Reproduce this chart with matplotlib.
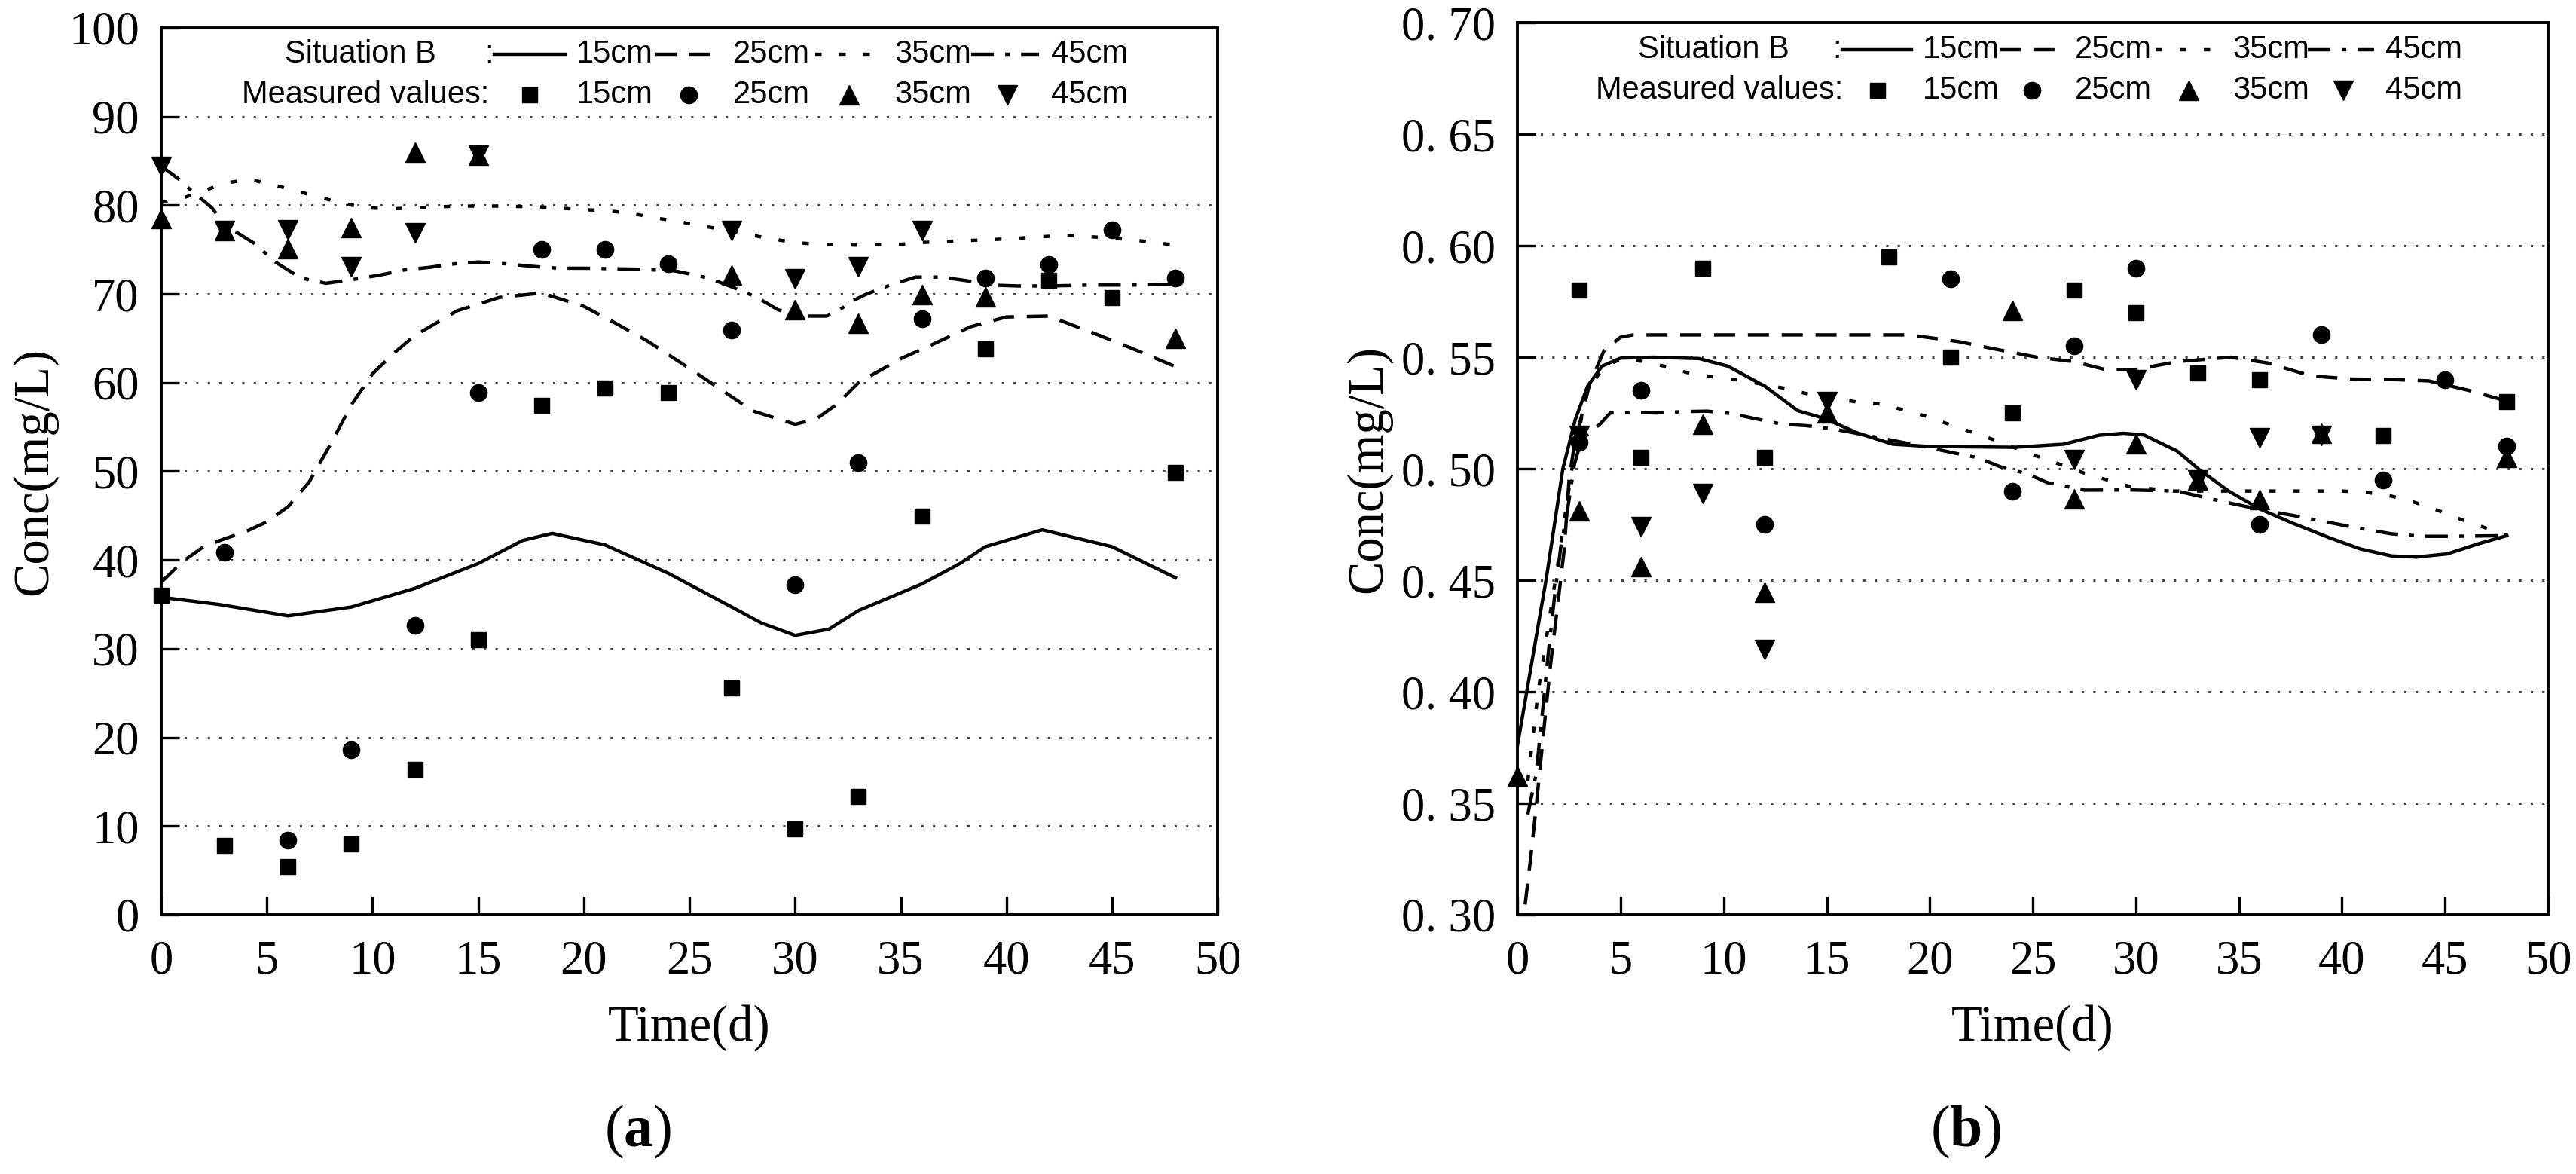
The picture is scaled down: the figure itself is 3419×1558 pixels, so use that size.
import numpy as np
import matplotlib
matplotlib.use('Agg')
import matplotlib.pyplot as plt

nan = np.nan

# ---- measured values (sampled every 3 days) ----
days = [0, 3, 6, 9, 12, 15, 18, 21, 24, 27, 30, 33, 36, 39, 42, 45, 48]

a_meas_15 = [36.0, 7.8, 5.4, 8.0, 16.4, 31.0, 57.4, 59.4, 58.9, 25.6, 9.7, 13.3, 44.9, 63.8, 71.5, 69.6, 49.9]
a_meas_25 = [nan, 40.9, 8.4, 18.6, 32.6, 58.9, 75.0, 75.0, 73.4, 65.9, 37.2, 51.0, 67.2, 71.8, 73.3, 77.2, 71.8]
a_meas_35 = [78.5, 77.1, 75.1, 77.5, 86.0, 85.6, nan, nan, nan, 72.1, 68.2, 66.7, 69.9, 69.7, nan, nan, 65.0]
a_meas_45 = [84.4, 77.1, 77.2, 73.1, 76.9, 85.6, nan, nan, nan, 77.1, 71.7, 73.1, 77.1, nan, nan, nan, nan]

b_meas_15 = [nan, 0.580, 0.505, 0.590, 0.505, nan, 0.595, 0.550, 0.525, 0.580, 0.570, 0.543, 0.540, nan, 0.515, nan, 0.530]
b_meas_25 = [nan, 0.512, 0.535, nan, 0.475, nan, nan, 0.585, 0.490, 0.555, 0.590, nan, 0.475, 0.560, 0.495, 0.540, 0.510]
b_meas_35 = [0.362, 0.481, 0.456, 0.520, 0.4445, 0.525, nan, nan, 0.571, 0.4865, 0.511, 0.495, 0.486, 0.516, nan, nan, 0.505]
b_meas_45 = [nan, 0.515, 0.474, 0.489, 0.419, 0.530, nan, nan, nan, 0.504, 0.540, 0.495, 0.514, 0.515, nan, nan, nan]

# ---- simulated curves, Situation B (a) ----
a_t15 = [0, 2.7, 6, 9, 12, 15, 17.1, 18.5, 21, 24, 27, 28.4, 30, 31.6, 33, 36, 37.8, 39, 41.7, 45, 48]
a_s15 = [35.8, 35.0, 33.7, 34.7, 36.8, 39.6, 42.2, 43.0, 41.7, 38.5, 34.7, 32.9, 31.5, 32.2, 34.3, 37.3, 39.6, 41.5, 43.4, 41.5, 38.0]

a_t25 = [0, 1, 2, 3, 4, 5, 6, 7, 8, 9, 10, 11, 12, 14, 16, 18, 20, 21.5, 23, 25, 26.5, 28, 30, 31, 32, 33, 35, 36.5, 38.3, 40, 42, 44, 46, 48]
a_s25 = [37.5, 39.8, 41.5, 42.4, 43.2, 44.3, 46.0, 48.8, 53.0, 57.5, 61.0, 63.3, 65.3, 68.1, 69.6, 70.1, 68.6, 66.7, 64.7, 61.6, 59.2, 56.8, 55.3, 55.9, 57.6, 60.0, 62.7, 64.3, 66.3, 67.4, 67.5, 65.7, 63.8, 61.8]

a_t35 = [0, 1, 2, 3, 4.2, 5.3, 6.4, 7.5, 8.6, 9.7, 11, 12, 14, 16, 18, 20, 21, 22.2, 23.3, 24.4, 25.5, 27, 27.8, 28.9, 30, 31, 33, 35, 36, 38, 40, 42, 43, 44.3, 45.5, 46.7, 48]
a_s35 = [80.3, 80.8, 81.6, 82.5, 82.9, 82.3, 81.6, 80.9, 80.2, 79.7, 79.6, 79.7, 79.9, 79.9, 79.8, 79.5, 79.4, 79.1, 78.6, 78.2, 77.7, 77.1, 76.7, 76.2, 75.8, 75.6, 75.5, 75.6, 75.8, 76.0, 76.2, 76.5, 76.6, 76.4, 76.2, 75.9, 75.5]

a_t45 = [0, 0.8, 1.4, 2.4, 3, 4.4, 5.4, 6.6, 7.8, 9, 10.3, 11.5, 12.7, 13.9, 15, 16.3, 17.6, 18.8, 20, 22.4, 24.3, 25.9, 27, 28.2, 29.2, 30.2, 31.5, 32.1, 32.7, 33.4, 34.5, 35.7, 36.9, 38.1, 39.3, 40.5, 42, 44, 46, 48]
a_s45 = [84.4, 83.0, 81.7, 79.7, 77.8, 75.7, 73.6, 71.8, 71.2, 71.6, 72.1, 72.7, 73.0, 73.4, 73.6, 73.4, 73.1, 72.9, 72.9, 72.8, 72.6, 71.8, 70.8, 69.6, 68.2, 67.5, 67.5, 68.2, 69.2, 70.0, 71.0, 71.9, 71.9, 71.5, 71.0, 70.9, 70.9, 71.0, 71.0, 71.1]

# ---- simulated curves, Situation B (b) ----
b_t15 = [0, 1.4, 2.2, 2.8, 3.4, 4.1, 5, 6.6, 8.8, 10.2, 12, 13.6, 14.9, 16.5, 18.2, 19.9, 24.1, 26.5, 28.2, 29.4, 30.4, 32, 33.1, 34.5, 36, 37.6, 39.4, 40.9, 42.4, 43.6, 45.1, 46.6, 48]
b_s15 = [0.376, 0.451, 0.500, 0.522, 0.537, 0.546, 0.5496, 0.550, 0.5494, 0.546, 0.537, 0.526, 0.5225, 0.516, 0.511, 0.510, 0.5096, 0.511, 0.515, 0.5159, 0.5151, 0.5079, 0.4994, 0.490, 0.482, 0.4756, 0.469, 0.464, 0.4609, 0.4604, 0.4618, 0.4663, 0.470]

b_t25 = [0.37, 0.67, 0.9, 1.3, 1.6, 2.0, 2.27, 2.5, 2.76, 3.5, 4.2, 5, 5.6, 19, 21.4, 23.3, 25.2, 27, 28.5, 30, 32, 34.6, 36.4, 38.5, 40.5, 42.4, 44.2, 46.2, 48]
b_s25 = [0.3046, 0.328, 0.348, 0.385, 0.412, 0.443, 0.464, 0.495, 0.511, 0.538, 0.553, 0.559, 0.560, 0.560, 0.557, 0.5534, 0.550, 0.548, 0.5445, 0.5445, 0.548, 0.550, 0.5474, 0.5416, 0.5402, 0.540, 0.5394, 0.535, 0.5303]

b_t35 = [0.5, 1, 2, 2.8, 3.4, 4.2, 5, 6.3, 7.3, 8.4, 9.6, 10.8, 13, 14.1, 16.4, 17.6, 18.6, 19.8, 20.9, 22, 23.1, 25.2, 26.3, 27.5, 28.6, 29.7, 31.8, 34.2, 36.6, 38.8, 40, 41.2, 42.4, 43.5, 44.6, 45.7, 46.8, 48]
b_s35 = [0.36, 0.40, 0.46, 0.51, 0.535, 0.546, 0.549, 0.548, 0.5455, 0.5427, 0.541, 0.5397, 0.536, 0.5335, 0.530, 0.529, 0.5267, 0.5236, 0.520, 0.5165, 0.513, 0.5056, 0.502, 0.498, 0.495, 0.492, 0.490, 0.490, 0.490, 0.490, 0.490, 0.4894, 0.4877, 0.485, 0.4815, 0.4775, 0.474, 0.470]

b_t45 = [0.5, 0.9, 1.2, 1.5, 1.8, 2.1, 2.4, 2.76, 3.1, 4.0, 4.5, 5.5, 6.75, 8, 9.2, 10.4, 11.5, 12.8, 14, 15.2, 16.2, 19.9, 21.2, 22.3, 23.5, 24.7, 25.7, 27.5, 29.7, 32, 33.4, 34.6, 36.4, 37.9, 40.3, 42.4, 43.9, 45.4, 48]
b_s45 = [0.345, 0.363, 0.390, 0.418, 0.443, 0.465, 0.480, 0.502, 0.513, 0.520, 0.525, 0.5253, 0.525, 0.5256, 0.5258, 0.5247, 0.5225, 0.520, 0.5193, 0.518, 0.5163, 0.5096, 0.507, 0.505, 0.5006, 0.4978, 0.4938, 0.4904, 0.4905, 0.490, 0.487, 0.4845, 0.481, 0.4786, 0.4742, 0.4708, 0.4697, 0.4697, 0.470]

x_ticks = [0, 5, 10, 15, 20, 25, 30, 35, 40, 45, 50]
a_yticks = [0, 10, 20, 30, 40, 50, 60, 70, 80, 90, 100]
a_ylabels = ['0', '10', '20', '30', '40', '50', '60', '70', '80', '90', '100']
b_yticks = [0.30, 0.35, 0.40, 0.45, 0.50, 0.55, 0.60, 0.65, 0.70]
b_ylabels = ['0. 30', '0. 35', '0. 40', '0. 45', '0. 50', '0. 55', '0. 60', '0. 65', '0. 70']
depths = ['15cm', '25cm', '35cm', '45cm']

plt.rcParams['mathtext.fontset'] = 'custom'
plt.rcParams['mathtext.rm'] = 'Liberation Serif'
plt.rcParams['mathtext.bf'] = 'Liberation Serif:bold'

LW = 3.2
line_styles = ['-', (0, (6.3, 3.8)), (0, (1.9, 5.3)), (0, (6.75, 3.4, 1.35, 3.4))]
markers = [('s', 15), ('o', 16), ('^', 19), ('v', 19)]
serif = 'Liberation Serif'
sans = ['Liberation Sans Narrow', 'Liberation Sans', 'DejaVu Sans']


def draw_legend(ax):
    kw = dict(transform=ax.transAxes, fontsize=30, family=sans, va='center')
    r1, r2 = 0.970, 0.924
    ax.text(0.117, r1, 'Situation B', ha='left', **kw)
    ax.text(0.306, r1, ':', ha='left', **kw)
    ax.text(0.076, r2, 'Measured values:', ha='left', **kw)
    line_x = [(0.315, 0.382), (0.468, 0.530), (0.619, 0.682), (0.767, 0.831)]
    label_x = [0.393, 0.541, 0.694, 0.842]
    mark_x = [0.349, 0.499, 0.651, 0.801]
    for i in range(4):
        ax.plot(line_x[i], [r1, r1], transform=ax.transAxes, color='black',
                lw=LW, linestyle=line_styles[i], clip_on=False)
        ax.text(label_x[i], r1, depths[i], ha='left', **kw)
        m, ms = markers[i]
        ax.plot([mark_x[i]], [r2], transform=ax.transAxes, linestyle='none',
                marker=m, markersize=ms, color='black', clip_on=False)
        ax.text(label_x[i], r2, depths[i], ha='left', **kw)


def draw_panel(ax, sims, meas, yticks, ylabels, ylim, label_x):
    for i, (t, s) in enumerate(sims):
        ax.plot(t, s, color='black', lw=LW, linestyle=line_styles[i], zorder=3)
    for i, vals in enumerate(meas):
        m, ms = markers[i]
        ax.plot(days, vals, linestyle='none', marker=m, markersize=ms,
                color='black', zorder=4, clip_on=False)

    ax.set_xlim(0, 50)
    ax.set_ylim(*ylim)
    ax.set_xticks(x_ticks)
    ax.set_xticklabels([str(v) for v in x_ticks], family=serif, fontsize=45)
    ax.set_yticks(yticks)
    ax.set_yticklabels(ylabels, family=serif, fontsize=45)
    ax.tick_params(axis='x', direction='in', length=17, width=2.4, pad=24)
    ax.tick_params(axis='y', direction='in', length=17, width=2.4, pad=21)

    # dotted horizontal guides at the inner major ticks
    for yv in yticks[1:-1]:
        ax.axhline(yv, color='#444444', lw=2.2, linestyle=(0, (1, 4)), zorder=1)

    for sp in ax.spines.values():
        sp.set_linewidth(2.8)

    ax.set_xlabel('Time(d)', family=serif, fontsize=48, labelpad=20)
    ax.set_ylabel('Conc(mg/L)', family=serif, fontsize=48)
    ax.yaxis.set_label_coords(label_x, 0.5)
    draw_legend(ax)


fig = plt.figure(figsize=(34.19, 15.58), dpi=100)
ax_a = fig.add_axes([0.0626, 0.2208, 0.4101, 0.7555])
ax_b = fig.add_axes([0.5891, 0.2208, 0.4001, 0.7599])

draw_panel(ax_a,
           [(a_t15, a_s15), (a_t25, a_s25), (a_t35, a_s35), (a_t45, a_s45)],
           [a_meas_15, a_meas_25, a_meas_35, a_meas_45],
           a_yticks, a_ylabels, (0, 100), -0.098)
draw_panel(ax_b,
           [(b_t15, b_s15), (b_t25, b_s25), (b_t35, b_s35), (b_t45, b_s45)],
           [b_meas_15, b_meas_25, b_meas_35, b_meas_45],
           b_yticks, b_ylabels, (0.30, 0.70), -0.122)

fig.text(0.2477, 0.036, r'($\mathbf{a}$)', ha='center', va='center',
         family=serif, fontsize=56)
fig.text(0.763, 0.036, r'($\mathbf{b}$)', ha='center', va='center',
         family=serif, fontsize=56)

fig.savefig('out.png', dpi=100)
